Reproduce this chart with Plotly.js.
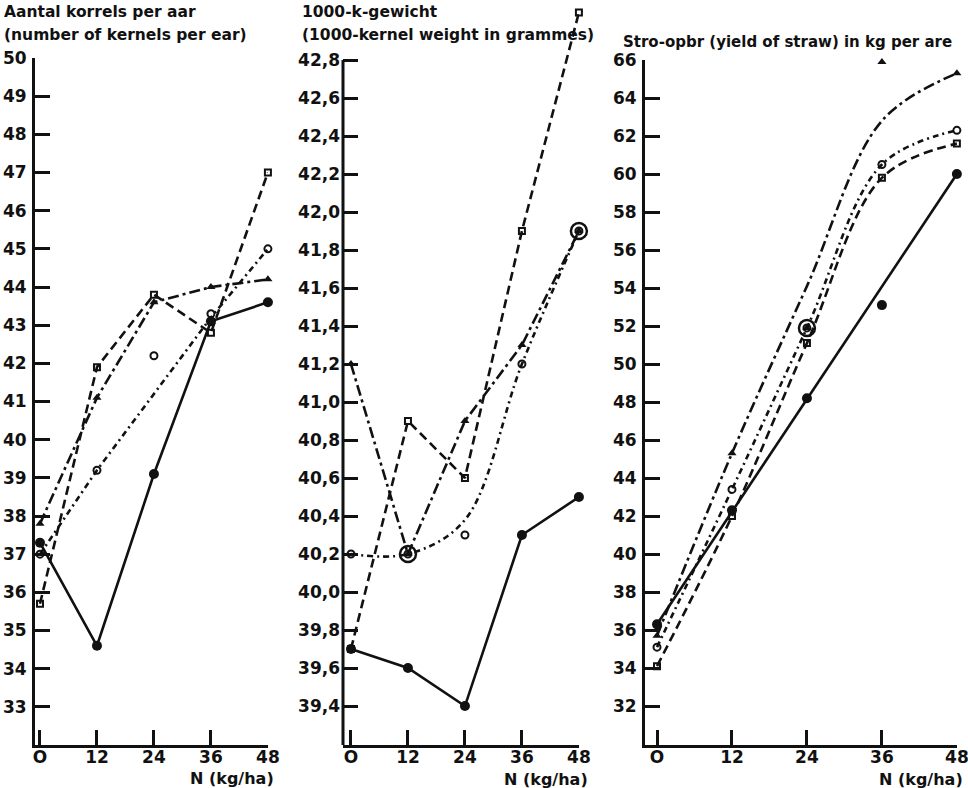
<!DOCTYPE html>
<html><head><meta charset="utf-8">
<script src="https://cdn.plot.ly/plotly-3.0.1.min.js"></script>
<style>html,body{margin:0;padding:0;background:#fff}#g{width:968px;height:788px}</style>
</head><body><div id="g"></div>
<script>
// ---- data ----
const N = [0, 12, 24, 36, 48];

// Panel 1: number of kernels per ear
const p1Solid   = [37.3, 34.6, 39.1, 43.1, 43.6];
const p1Dashed  = [35.7, 41.9, 43.8, 42.8, 47.0];
const p1DashDot = [37.8, 41.1, 43.6, 44.0, 44.2];
const p1Open    = [37.0, 39.2, 42.2, 43.3, 45.0];
const p1OpenLineN = [0, 12, 36, 48];
const p1OpenLine  = [37.0, 39.2, 43.2, 45.0];

// Panel 2: 1000-kernel weight (g)
const p2Solid   = [39.7, 39.6, 39.4, 40.3, 40.5];
const p2Dashed  = [39.7, 40.9, 40.6, 41.9, 43.05];
const p2DashDot = [41.2, 40.2, 40.9, 41.3, 41.9];
const p2Open    = [40.2, 40.2, 40.3, 41.2, 41.9];
const p2OpenLine = [40.2, 40.2, 40.38, 41.2, 41.9];
const p2CircledN = [12, 48];
const p2Circled  = [40.2, 41.9];

// Panel 3: yield of straw (kg per are)
const p3Solid   = [36.3, 42.3, 48.2, 53.1, 60.0];
const p3SolidLineN = [0, 48];
const p3SolidLine  = [36.3, 60.0];
const p3Dashed  = [34.1, 42.0, 51.1, 59.8, 61.6];
const p3DashDot = [35.7, 45.3, 51.9, 65.9, 65.3];
const p3DashDotLine = [35.7, 45.3, 54.1, 62.8, 65.3];
const p3Open    = [35.1, 43.4, 51.9, 60.5, 62.3];
const p3CircledN = [24];
const p3Circled  = [51.9];

// tick values
const xTicks = [0, 12, 24, 36, 48];
const xTickText = ['O', '12', '24', '36', '48'];
const y1Ticks = [33,34,35,36,37,38,39,40,41,42,43,44,45,46,47,48,49,50];
const y2Ticks = [39.4,39.6,39.8,40.0,40.2,40.4,40.6,40.8,41.0,41.2,41.4,41.6,41.8,42.0,42.2,42.4,42.6,42.8];
const y3Ticks = [32,34,36,38,40,42,44,46,48,50,52,54,56,58,60,62,64,66];

// ---- styling ----
const K = '#111';
const FONT = 'DejaVu Sans';
const W = 968, H = 788;
const px = x => x / W, py = y => 1 - y / H;

const DASH = '9px,5px';
const DASHDOT = '11px,4px,3px,4px';
const OPENDASH = '6px,4px,2px,4px';

function line(xa, ya, x, y, dash, shape) {
  return {x, y, xaxis: xa, yaxis: ya, mode: 'lines', type: 'scatter',
    line: {color: K, width: 2.6, dash: dash, shape: shape || 'linear', smoothing: 1},
    hoverinfo: 'skip', showlegend: false};
}
function marks(xa, ya, x, y, symbol, size, lw) {
  return {x, y, xaxis: xa, yaxis: ya, mode: 'markers', type: 'scatter', cliponaxis: false,
    marker: {color: K, symbol, size, line: {color: K, width: lw || 0}},
    hoverinfo: 'skip', showlegend: false};
}

const traces = [
  // panel 1
  line('x', 'y', N, p1Solid, 'solid'),
  line('x', 'y', N, p1Dashed, DASH),
  line('x', 'y', N, p1DashDot, DASHDOT),
  line('x', 'y', p1OpenLineN, p1OpenLine, OPENDASH),
  marks('x', 'y', N, p1Solid, 'circle', 10),
  marks('x', 'y', N, p1Dashed, 'square-open', 6, 2),
  marks('x', 'y', N, p1DashDot, 'triangle-up', 8),
  marks('x', 'y', N, p1Open, 'circle-open', 7, 2),
  // panel 2
  line('x2', 'y2', N, p2Solid, 'solid'),
  line('x2', 'y2', N, p2Dashed, DASH),
  line('x2', 'y2', N, p2DashDot, DASHDOT),
  line('x2', 'y2', N, p2OpenLine, OPENDASH, 'spline'),
  marks('x2', 'y2', N, p2Solid, 'circle', 10),
  marks('x2', 'y2', N, p2Dashed, 'square-open', 6, 2),
  marks('x2', 'y2', N, p2DashDot, 'triangle-up', 8),
  marks('x2', 'y2', N, p2Open, 'circle-open', 7, 2),
  marks('x2', 'y2', p2CircledN, p2Circled, 'circle-open', 16, 2.5),
  // panel 3
  line('x3', 'y3', p3SolidLineN, p3SolidLine, 'solid'),
  line('x3', 'y3', N, p3Dashed, DASH, 'spline'),
  line('x3', 'y3', N, p3DashDotLine, DASHDOT, 'spline'),
  line('x3', 'y3', N, p3Open, OPENDASH, 'spline'),
  marks('x3', 'y3', N, p3Solid, 'circle', 10),
  marks('x3', 'y3', N, p3Dashed, 'square-open', 6, 2),
  marks('x3', 'y3', N, p3DashDot, 'triangle-up', 8),
  marks('x3', 'y3', N, p3Open, 'circle-open', 7, 2),
  marks('x3', 'y3', p3CircledN, p3Circled, 'circle-open', 16, 2.5)
];

const tickFont = {family: FONT, size: 17, color: K, weight: 'bold'};
function xax(d0, d1, r0, anchor) {
  return {domain: [px(d0), px(d1)], range: [r0, 48.02], tickvals: xTicks, ticktext: xTickText,
    ticks: 'inside', ticklen: 15, tickwidth: 3, tickcolor: K, showline: true, linewidth: 3, linecolor: K,
    showgrid: false, zeroline: false, tickfont: tickFont, ticklabelstandoff: -5,
    ticklabeloverflow: 'allow', anchor, fixedrange: true};
}
function yax(top, r0, r1, tv, showline, anchor) {
  return {domain: [py(745), py(top)], range: [r0, r1], tickvals: tv,
    ticks: 'inside', ticklen: 15, tickwidth: 3, tickcolor: K, showline, linewidth: 3, linecolor: K,
    showgrid: false, zeroline: false, tickfont: tickFont, ticklabelstandoff: 2,
    ticklabeloverflow: 'allow', anchor, fixedrange: true};
}

const xa1 = xax(35, 268, -1.05, 'y');
const xa2 = xax(343, 579, -1.68, 'y2');
const xa3 = xax(645, 957, -1.92, 'y3');
const ya1 = yax(58, 32.0, 50, y1Ticks, true, 'x');
const ya2 = yax(3, 39.195, 43.1, y2Ticks, false, 'x2'); ya2.tickformat = '.1f';
const ya3 = yax(60, 29.95, 66, y3Ticks, true, 'x3');

function ann(text, x, y, size) {
  return {text, x: px(x), y: py(y), xref: 'paper', yref: 'paper', xanchor: 'left', yanchor: 'middle',
    showarrow: false, font: {family: FONT, size: size || 14, color: K, weight: 'bold'}};
}

const layout = {
  width: W, height: H, margin: {l: 0, r: 0, t: 0, b: 0},
  paper_bgcolor: '#fff', plot_bgcolor: 'rgba(0,0,0,0)',
  separators: ',.', showlegend: false,
  xaxis: xa1, yaxis: ya1, xaxis2: xa2, yaxis2: ya2, xaxis3: xa3, yaxis3: ya3,
  shapes: [
    {type: 'line', xref: 'x2 domain', yref: 'y2', x0: 0, x1: 0, y0: 39.195, y1: 42.8,
     line: {color: K, width: 3}, layer: 'above'}
  ],
  annotations: [
    ann('Aantal korrels per aar', 2, 12, 15.5),
    ann('(number of kernels per ear)', 2, 35, 15.5),
    ann('1000-k-gewicht', 300, 12, 15.5),
    ann('(1000-kernel weight in grammes)', 300, 35, 15.5),
    ann('Stro-opbr (yield of straw) in kg per are', 621, 42, 15),
    ann('N (kg/ha)', 188, 778, 16),
    ann('N (kg/ha)', 502, 779, 16),
    ann('N (kg/ha)', 877, 779, 16)
  ]
};

Plotly.newPlot('g', traces, layout, {staticPlot: true, displayModeBar: false});
</script>
</body></html>
